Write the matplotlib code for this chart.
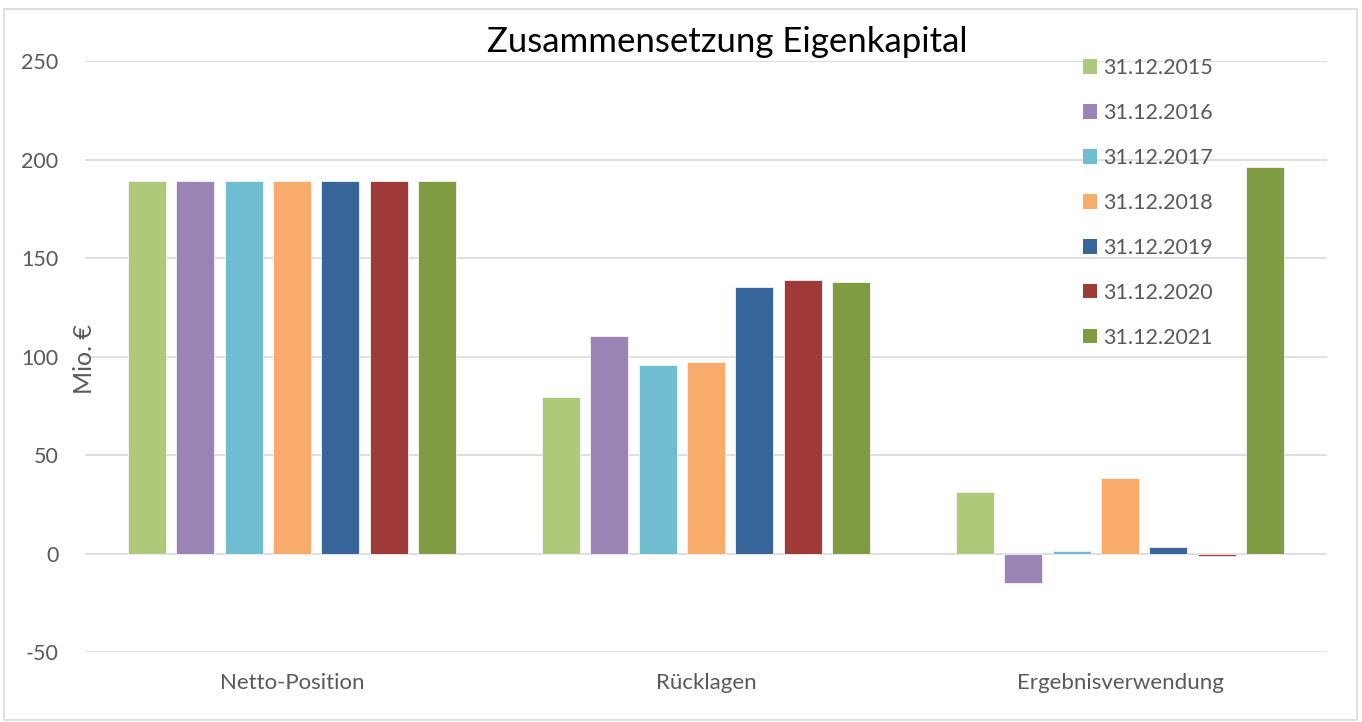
import numpy as np
import matplotlib
matplotlib.use('Agg')
import matplotlib.pyplot as plt
from matplotlib.patches import Rectangle, Patch

plt.rcParams['font.family'] = ['Lato', 'DejaVu Sans']
plt.rcParams['axes.unicode_minus'] = False

categories = ['Netto-Position', 'Rücklagen', 'Ergebnisverwendung']
series_names = ['31.12.2015', '31.12.2016', '31.12.2017', '31.12.2018',
                '31.12.2019', '31.12.2020', '31.12.2021']
# rows = series (dates), columns = categories
values = [
    [189, 79.5, 31.1],
    [189, 110.5, -14.8],
    [189, 95.8, 1.3],
    [189, 97.2, 38.2],
    [189, 135.3, 3.1],
    [189, 138.8, -1.1],
    [189, 137.9, 196.2],
]
colors = ['#afc97a', '#9a84b5', '#6fbdd1', '#f8ab6b', '#376599', '#9f3a38', '#7f9c40']
yticks = [-50, 0, 50, 100, 150, 200, 250]

W, H = 1362, 722
fig = plt.figure(figsize=(W / 100, H / 100), dpi=100)
ax = fig.add_axes([85 / W, 1 - 652 / H, (1327 - 85) / W, (652 - 61) / H])

x = np.arange(len(categories))
pitch = 0.1167
width = 0.092
for i, (name, vals) in enumerate(zip(series_names, values)):
    ax.bar(x + (i - 3) * pitch, vals, width, color=colors[i], label=name,
           edgecolor='#f4f4f4', linewidth=0.6, zorder=3)

ax.set_xlim(-0.5, 2.5)
ax.set_ylim(-50, 250)
ax.set_yticks(yticks)
ax.set_xticks(x)
ax.set_xticklabels(categories, fontsize=16)
ax.grid(axis='y', color='#d9d9d9', linewidth=1.2, zorder=0)
for s in ax.spines.values():
    s.set_visible(False)
ax.tick_params(length=0, colors='#595959')
ax.tick_params(axis='y', pad=19, labelsize=15.5)
ax.tick_params(axis='x', pad=15)

fig.text(84 / W, 1 - 359 / H, 'Mio. €', rotation=90, ha='center', va='center',
         fontsize=18, color='#595959')
fig.text(727 / W, 1 - 42 / H, 'Zusammensetzung Eigenkapital', ha='center',
         va='center', fontsize=25, color='black')

handles = [Patch(facecolor=c, edgecolor='none') for c in colors]
fig.legend(handles, series_names, loc='upper left',
           bbox_to_anchor=(1083 / W, 1 - 58 / H), frameon=False,
           fontsize=15.5, labelcolor='#595959', handlelength=0.65,
           handleheight=0.65, handletextpad=0.3, labelspacing=1.16,
           borderpad=0, borderaxespad=0)

fig.patches.append(Rectangle((4 / W, 2 / H), (1357 - 4) / W, (713 - 2) / H,
                             transform=fig.transFigure, fill=False,
                             edgecolor='#d9d9d9', linewidth=1.2))

fig.savefig('out.png', dpi=100)
